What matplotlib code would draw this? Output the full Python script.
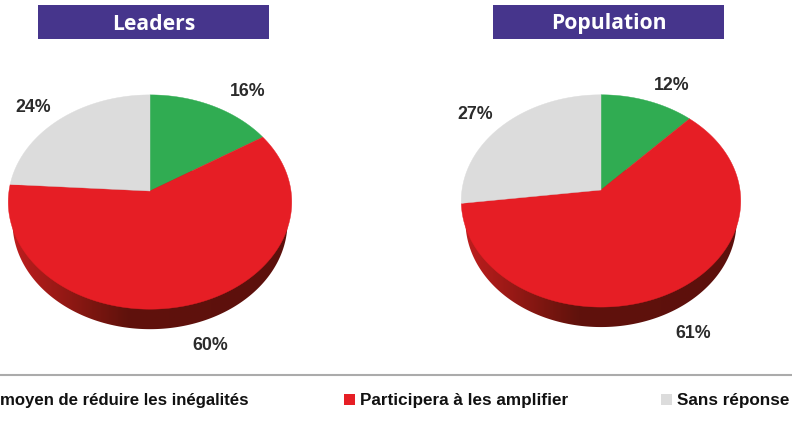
import numpy as np
from matplotlib import pyplot as plt
from matplotlib.colors import LinearSegmentedColormap
from matplotlib.patches import Polygon, Rectangle

W, H = 792, 423

titles = ["Leaders", "Population"]
leaders_values = [16, 60, 24]
population_values = [12, 61, 27]
legend_labels = ["moyen de réduire les inégalités", "Participera à les amplifier", "Sans réponse"]
slice_colors = ["#30ac52", "#e61e25", "#dcdcdc"]

NARROW = ["Liberation Sans Narrow", "Liberation Sans"]
TITLE_FONT = ["Open Sans", "DejaVu Sans"]
rim_cmap = LinearSegmentedColormap.from_list(
    "rim", [(0, "#c41e1f"), (0.12, "#a81b19"), (0.3, "#7c1610"), (0.42, "#60120c"), (1, "#5c100c")])


def project(frac, k, sx, sy, cx, cy):
    # clockwise from the top, seen with a slight perspective
    a = 2 * np.pi * np.asarray(frac)
    u, v = np.sin(a), np.cos(a)
    w = 1 + k * v
    return cx + sx * u / w, cy - sy * v / w


def draw_pie(ax, values, k, sx, sy, cx, cy, depth, label_pos):
    t = np.linspace(0, 1, 721)

    # rim: slightly narrower outline shifted down, filled with a horizontal gradient
    x, y = project(t, k, sx * 0.97, sy, cx, cy)
    img = ax.imshow(np.linspace(0, 1, 256)[None, :], cmap=rim_cmap, aspect="auto",
                    extent=(cx - sx - 4, cx + sx + 4, cy + sy + depth + 20, cy - 20), zorder=1)
    rim_clip = Polygon(np.c_[x, y + depth], transform=ax.transData, fc="none", ec="none")
    ax.add_patch(rim_clip)
    img.set_clip_path(rim_clip)

    total = sum(values)
    start = 0
    for value, color, pos in zip(values, slice_colors, label_pos):
        end = start + value / total
        ts = np.linspace(start, end, 200)
        xs, ys = project(ts, k, sx, sy, cx, cy)
        ax.add_patch(Polygon(np.r_[[[cx, cy]], np.c_[xs, ys]], fc=color, ec=color, lw=0.3, zorder=2))
        ax.text(pos[0], pos[1], f"{value}%", ha="center", va="center", fontsize=12.8,
                fontweight="bold", family=NARROW, color="#2b2b2b", zorder=3)
        start = end


fig = plt.figure(figsize=(W / 100, H / 100), dpi=100)
ax = fig.add_axes([0, 0, 1, 1])
ax.set_xlim(0, W)
ax.set_ylim(H, 0)
ax.axis("off")

draw_pie(ax, leaders_values, 0.103, 141, 106, 150, 191, 20, [(248, 91.5), (210, 346), (33, 107.5)])
draw_pie(ax, population_values, 0.103, 139, 105, 601, 190, 20, [(672, 85), (693, 333.5), (475, 114.5)])
ax.set_xlim(0, W)
ax.set_ylim(H, 0)

for title, x0 in zip(titles, [38, 493]):
    ax.add_patch(Rectangle((x0, 5), 231, 34, fc="#46358c", ec="none"))
    ax.text(x0 + 115.5, 24, title, ha="center", va="center", color="white", fontsize=15.2,
            fontweight="bold", family=TITLE_FONT)

ax.plot([0, W], [375, 375], color="#ababab", lw=1.5)

ax.text(0, 400, legend_labels[0], ha="left", va="center", fontsize=12.1, fontweight="bold",
        family=NARROW, color="#111111")
for label, color, mx in zip(legend_labels[1:], slice_colors[1:], [344, 661]):
    ax.add_patch(Rectangle((mx, 394), 11, 11, fc=color, ec="none"))
    ax.text(mx + 16, 400, label, ha="left", va="center", fontsize=12.3, fontweight="bold",
            family=NARROW, color="#111111")

fig.savefig("out.png", dpi=100)
